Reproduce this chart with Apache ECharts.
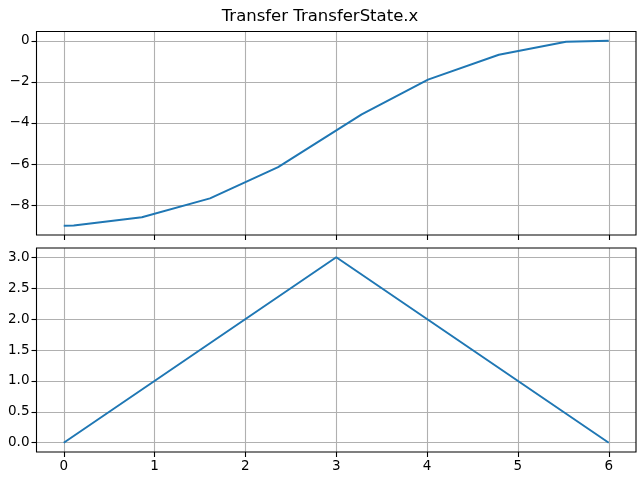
<!DOCTYPE html>
<html>
<head>
<meta charset="utf-8">
<script src="https://cdn.jsdelivr.net/npm/echarts@6/dist/echarts.min.js"></script>
<style>html,body{margin:0;padding:0;background:#fff}#c{width:640px;height:480px}</style>
</head>
<body>
<div id="c"></div>
<script>
var titleText = "Transfer TransferState.x";
var topX = [0, 0.11, 0.86, 1.61, 2.36, 3.28, 4.01, 4.79, 5.53, 6.0];
var topY = [-9.0, -8.99, -8.59, -7.67, -6.15, -3.58, -1.89, -0.68, -0.05, 0.0];
var botX = [0, 3, 6];
var botY = [0, 3, 0];
var xTicks = [0, 1, 2, 3, 4, 5, 6];
var topYTicks = [-8, -6, -4, -2, 0];
var botYTicks = [0, 0.5, 1.0, 1.5, 2.0, 2.5, 3.0];

function pairs(xs, ys) { return xs.map(function (x, i) { return [x, ys[i]]; }); }
var font = "DejaVu Sans";
var gridLine = { show: true, lineStyle: { color: '#b0b0b0', width: 1.1 } };
var tick = function (vals) { return { show: true, inside: false, length: 5, lineStyle: { color: '#000', width: 1.1 }, customValues: vals }; };
function xAxis(idx, showLabels) {
  return {
    type: 'value', gridIndex: idx, min: -0.3, max: 6.3, position: 'bottom',
    axisLine: { show: false, onZero: false },
    axisTick: tick(xTicks),
    splitLine: gridLine,
    axisLabel: { show: showLabels, customValues: xTicks, color: '#000', fontFamily: font, fontSize: 13.5, margin: 7 }
  };
}
function yAxis(idx, min, max, vals, fmt) {
  return {
    type: 'value', gridIndex: idx, min: min, max: max, position: 'left',
    axisLine: { show: false, onZero: false },
    axisTick: tick(vals),
    splitLine: gridLine,
    axisLabel: { customValues: vals, color: '#000', fontFamily: font, fontSize: 13.5, margin: 7, formatter: fmt }
  };
}
var chart = echarts.init(document.getElementById('c'), null, { renderer: 'canvas' });
chart.setOption({
  animation: false,
  backgroundColor: '#fff',
  title: { text: titleText, left: 'center', top: 3, textStyle: { fontFamily: font, fontSize: 16.5, fontWeight: 'normal', color: '#000' } },
  grid: [
    { left: 36.5, top: 31.5, width: 599.5, height: 203.5, show: true, borderColor: '#000', borderWidth: 1.1, backgroundColor: 'transparent', z: 3 },
    { left: 36.5, top: 248, width: 599.5, height: 204, show: true, borderColor: '#000', borderWidth: 1.1, backgroundColor: 'transparent', z: 3 }
  ],
  xAxis: [xAxis(0, false), xAxis(1, true)],
  yAxis: [
    yAxis(0, -9.45, 0.45, topYTicks, function (v) { return (v < 0 ? '\u2212' : '') + Math.abs(v).toFixed(0); }),
    yAxis(1, -0.15, 3.15, botYTicks, function (v) { return v.toFixed(1); })
  ],
  series: [
    { type: 'line', xAxisIndex: 0, yAxisIndex: 0, data: pairs(topX, topY), showSymbol: false, lineStyle: { color: '#1f77b4', width: 2 }, z: 5 },
    { type: 'line', xAxisIndex: 1, yAxisIndex: 1, data: pairs(botX, botY), showSymbol: false, lineStyle: { color: '#1f77b4', width: 2 }, z: 5 }
  ]
});
</script>
</body>
</html>
